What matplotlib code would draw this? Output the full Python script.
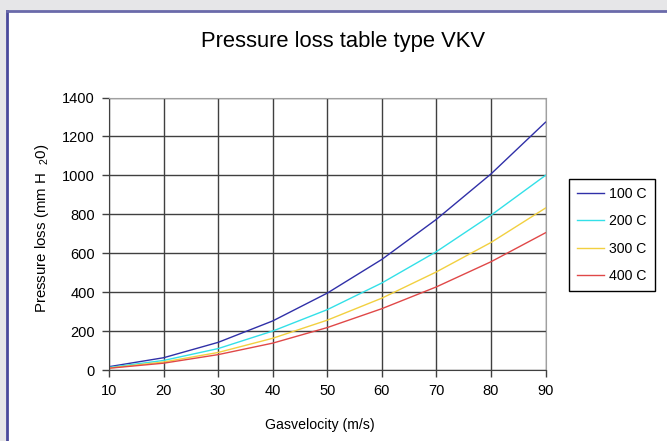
import numpy as np
import matplotlib
matplotlib.use("Agg")
import matplotlib.pyplot as plt
from matplotlib.patches import Rectangle

plt.rcParams["font.family"] = ["Liberation Sans", "DejaVu Sans"]
plt.rcParams["mathtext.fontset"] = "custom"
plt.rcParams["mathtext.rm"] = "Liberation Sans"
plt.rcParams["mathtext.it"] = "Liberation Sans"

# Gas velocity (m/s)
velocity = [10, 20, 30, 40, 50, 60, 70, 80, 90]

# Pressure loss (mm H2O) per temperature
loss_100 = [17, 63, 142, 252, 395, 568, 774, 1007, 1273]
loss_200 = [13, 49, 110, 200, 310, 447, 608, 795, 1000]
loss_300 = [10, 41, 90, 163, 256, 369, 504, 655, 832]
loss_400 = [9, 35, 79, 138, 218, 315, 427, 556, 705]

labels = ["100 C", "200 C", "300 C", "400 C"]
colors = ["#3030a8", "#33e0e8", "#f2d040", "#e04848"]

W, H = 667, 441
fig = plt.figure(figsize=(W / 100, H / 100), dpi=100)
fig.patch.set_facecolor("#e6e6e8")

# white chart area with blue frame on top/left
fig.patches.append(Rectangle((7 / W, 0), 1, 1 - 11 / H, transform=fig.transFigure,
                             facecolor="white", edgecolor="none", zorder=-5))
fig.add_artist(plt.Line2D([7 / W, 7 / W], [0, 1 - 11 / H], transform=fig.transFigure,
                          color="#4a4a9c", lw=2, zorder=-4))
fig.add_artist(plt.Line2D([7 / W, 1], [1 - 11 / H, 1 - 11 / H], transform=fig.transFigure,
                          color="#6a6aaa", lw=2, zorder=-4))

ax = fig.add_axes([109 / W, 1 - 370 / H, (545.5 - 109) / W, (370 - 97.5) / H])
ax.set_zorder(2)
ax.patch.set_facecolor("white")

for vals, lab, c in zip([loss_100, loss_200, loss_300, loss_400], labels, colors):
    ax.plot(velocity, vals, color=c, lw=1, label=lab)

ax.set_xlim(10, 90)
ax.set_ylim(0, 1400)
ax.set_xticks(np.arange(10, 91, 10))
ax.set_yticks(np.arange(0, 1401, 200))
ax.grid(True, color="#404040", lw=1)
ax.set_axisbelow(True)
for s in ["top", "right"]:
    ax.spines[s].set_color("#a0a0a0")
for s in ["left", "bottom"]:
    ax.spines[s].set_color("#404040")
ax.tick_params(direction="out", length=5, width=1, colors="#404040",
               labelcolor="black", labelsize=10.5, pad=5)

fig.text(343 / W, 1 - 42 / H, "Pressure loss table type VKV", ha="center", va="center",
         fontsize=15.8)
fig.text(320 / W, 1 - 425 / H, "Gasvelocity (m/s)", ha="center", va="center", fontsize=10.2)
fig.text(42 / W, 1 - 228 / H, "Pressure loss (mm H  $_2$0)", ha="center", va="center",
         rotation=90, fontsize=10.8)

leg = ax.legend(loc="upper left", bbox_to_anchor=(569 / W, 1 - 179 / H),
                bbox_transform=fig.transFigure, borderaxespad=0, fancybox=False,
                edgecolor="black", framealpha=1, fontsize=10.2, handlelength=1.9,
                labelspacing=0.95, handletextpad=0.4, borderpad=0.55)
leg.get_frame().set_linewidth(1)

fig.savefig("out.png", dpi=100, facecolor=fig.get_facecolor())
